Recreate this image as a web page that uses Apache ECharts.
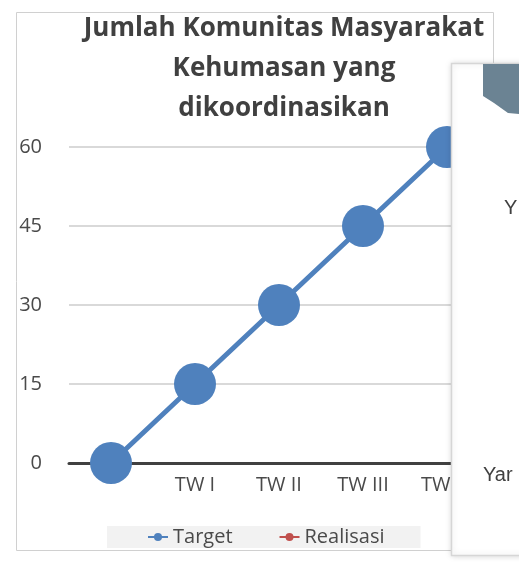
<!DOCTYPE html>
<html>
<head>
<meta charset="utf-8">
<script src="https://cdn.jsdelivr.net/npm/echarts@6/dist/echarts.min.js"></script>
<style>
  html, body { margin: 0; padding: 0; background: #fff; }
  #chart { width: 519px; height: 563px; }
</style>
</head>
<body>
<div id="chart"></div>
<script>
// data
const categories = ['', 'TW I', 'TW II', 'TW III', 'TW IV']
const targetValues = [0, 15, 30, 45, 60]
const realisasiValues = []
const yTicks = { min: 0, max: 60, interval: 15 }

const chart = echarts.init(document.getElementById('chart'))

const labelFont = { fontFamily: 'Open Sans', fontSize: 20, color: '#4a4a4a' }

chart.setOption({
  backgroundColor: '#ffffff',
  animation: false,
  title: {
    text: 'Jumlah Komunitas Masyarakat\nKehumasan yang\ndikoordinasikan',
    left: 279,
    textAlign: 'center',
    top: 4,
    textStyle: {
      fontFamily: 'Open Sans',
      fontSize: 26,
      fontWeight: 'bold',
      color: '#404040',
      lineHeight: 40
    }
  },
  legend: {
    data: ['Target', 'Realisasi'],
    left: 107,
    top: 526,
    backgroundColor: '#f2f2f2',
    padding: [1, 36, 1, 40],
    itemGap: 46,
    itemWidth: 20,
    itemHeight: 10,
    textStyle: labelFont
  },
  grid: { left: 69, right: 30, top: 147, bottom: 100 },
  xAxis: {
    type: 'category',
    data: categories,
    boundaryGap: true,
    axisLine: { lineStyle: { color: '#404040', width: 3 } },
    axisTick: { show: false },
    axisLabel: Object.assign({ margin: 12 }, labelFont)
  },
  yAxis: {
    type: 'value',
    min: yTicks.min,
    max: yTicks.max,
    interval: yTicks.interval,
    axisLine: { show: false },
    axisTick: { show: false },
    axisLabel: Object.assign({ margin: 27 }, labelFont),
    splitLine: { lineStyle: { color: '#d9d9d9', width: 2 } }
  },
  series: [
    {
      name: 'Target',
      type: 'line',
      data: targetValues,
      symbol: 'circle',
      symbolSize: 42,
      lineStyle: { color: '#4f81bd', width: 5 },
      itemStyle: { color: '#4f81bd' }
    },
    {
      name: 'Realisasi',
      type: 'line',
      data: realisasiValues,
      symbol: 'circle',
      symbolSize: 42,
      lineStyle: { color: '#c0504d', width: 5 },
      itemStyle: { color: '#c0504d' }
    }
  ],
  graphic: [
    // chart frame
    {
      type: 'rect',
      z: -1,
      silent: true,
      shape: { x: 16.5, y: 12.5, width: 477, height: 538 },
      style: { fill: 'none', stroke: '#d0d0d0', lineWidth: 1 }
    },
    // overlapping panel on the right, on its own layer above the plot
    {
      type: 'rect',
      zlevel: 1,
      silent: true,
      shape: { x: 451.5, y: 63.5, width: 90, height: 492 },
      style: {
        fill: '#ffffff',
        stroke: '#d6d6d6',
        lineWidth: 1.5,
        shadowBlur: 6,
        shadowColor: 'rgba(0,0,0,0.15)'
      }
    },
    {
      type: 'polygon',
      zlevel: 1,
      z: 2,
      silent: true,
      shape: { points: [[483, 64], [519, 64], [519, 114], [508, 113], [494, 103], [483, 96]] },
      style: { fill: '#6b8393' }
    },
    {
      type: 'text',
      zlevel: 1,
      z: 2,
      silent: true,
      style: {
        text: 'Y',
        x: 504,
        y: 208,
        verticalAlign: 'middle',
        font: '20px "Liberation Sans"',
        fill: '#404040'
      }
    },
    {
      type: 'text',
      zlevel: 1,
      z: 2,
      silent: true,
      style: {
        text: 'Yar',
        x: 483,
        y: 475,
        verticalAlign: 'middle',
        font: '20px "Liberation Sans"',
        fill: '#404040'
      }
    }
  ]
})
</script>
</body>
</html>
